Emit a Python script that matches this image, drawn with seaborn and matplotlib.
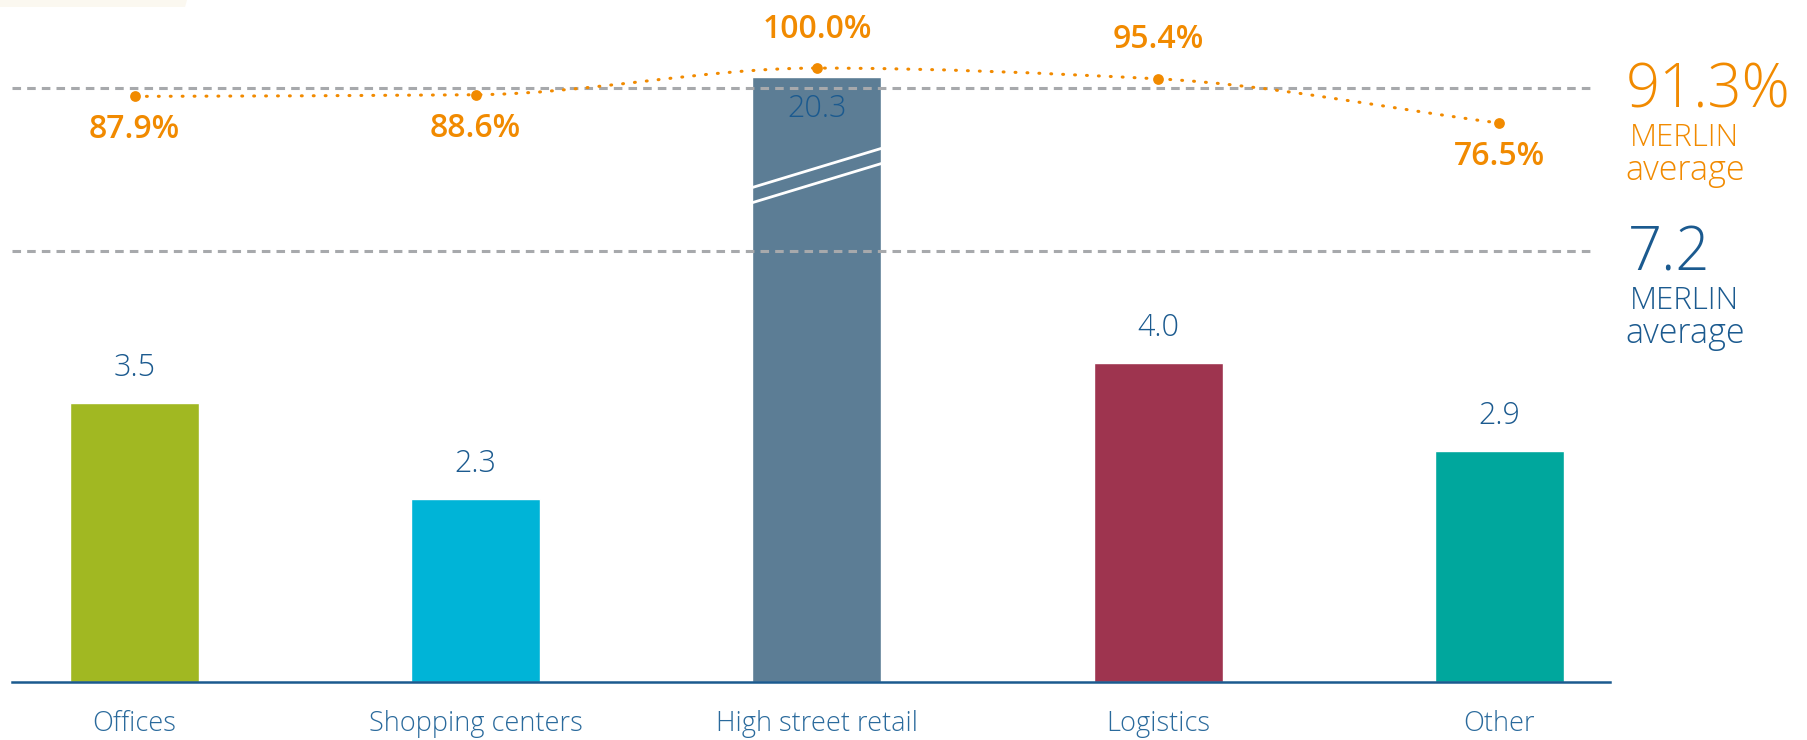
import numpy as np
import matplotlib
matplotlib.use("Agg")
import matplotlib.pyplot as plt
from matplotlib.path import Path
from matplotlib.patches import PathPatch, Polygon
import pandas as pd
import seaborn as sns

# data
categories = ["Offices", "Shopping centers", "High street retail", "Logistics", "Other"]
wault_years = [3.5, 2.3, 20.3, 4.0, 2.9]
occupancy_pct = [87.9, 88.6, 100.0, 95.4, 76.5]
bar_colors = ["#A1B822", "#00B4D7", "#5C7D95", "#9E344F", "#00A79D"]
avg_occupancy = 91.3
avg_wault = 7.2

ORANGE = "#F18A00"
BLUE = "#1B5A8F"
LABEL_BLUE = "#2A6A9C"
GREY = "#A7A9AC"

# layout: the reference breaks its y scale for the tall bar and the WAULT line
Y_TOP = 8.55
BAR_CAP = 7.59
WAULT_LINE_POS = 5.40
OCC_LIM = (-162.4, 129.1)

sns.set_theme(style="white")
plt.rcParams["font.family"] = ["Open Sans", "DejaVu Sans"]
THIN = "light"

W, H = 1807, 740
fig = plt.figure(figsize=(W / 100, H / 100), dpi=100)
ax = fig.add_axes([12 / W, (H - 682) / H, 1598 / W, 682 / H])

df = pd.DataFrame({"category": categories, "wault": wault_years})
df["shown"] = df["wault"].clip(upper=BAR_CAP)

sns.barplot(
    data=df,
    x="category",
    y="shown",
    hue="category",
    palette=dict(zip(categories, bar_colors)),
    width=0.378,
    saturation=1,
    legend=False,
    ax=ax
)
ax.set_xlim(-0.359, 4.324)
ax.set_ylim(0, Y_TOP)

# break marks on the truncated bar
for patch in ax.patches:
    x0, w = patch.get_x(), patch.get_width()
    i = int(round(x0 + w / 2))
    if wault_years[i] > BAR_CAP:
        for y0 in (6.20, 6.01):
            ax.plot([x0, x0 + w], [y0, y0 + 0.49], color="white", lw=2, solid_capstyle="butt", zorder=3)

# value labels
for i, (v, s) in enumerate(zip(wault_years, df["shown"])):
    off = -23 if v > BAR_CAP else 25
    ax.annotate(f"{v:.1f}", (i, s), xytext=(0, off), textcoords="offset points",
                ha="center", va="center", fontsize=22, color=BLUE, fontweight=THIN)

ax.axhline(WAULT_LINE_POS, xmin=0, xmax=0.991, color=GREY, lw=2.2, linestyle=(0, (2.8, 2)), zorder=1)

# occupancy on twin axis
ax2 = ax.twinx()
ax2.set_ylim(*OCC_LIM)
ax2.axhline(avg_occupancy, xmin=0, xmax=0.991, color=GREY, lw=2.2, linestyle=(0, (2.8, 2)), zorder=1)

xs = np.arange(len(occupancy_pct), dtype=float)
ys = np.array(occupancy_pct)
d = np.diff(ys)
m = np.zeros_like(ys)
m[0], m[-1] = d[0], d[-1]
for k in range(1, len(ys) - 1):
    if d[k - 1] * d[k] > 0:
        m[k] = 2 / (1 / d[k - 1] + 1 / d[k])
verts = [(xs[0], ys[0])]
codes = [Path.MOVETO]
for k in range(len(ys) - 1):
    verts += [(xs[k] + 1 / 3, ys[k] + m[k] / 3),
              (xs[k + 1] - 1 / 3, ys[k + 1] - m[k + 1] / 3),
              (xs[k + 1], ys[k + 1])]
    codes += [Path.CURVE4] * 3
ax2.add_patch(PathPatch(Path(verts, codes), fill=False, edgecolor=ORANGE, lw=2.2,
                        linestyle=(0, (0.3, 3.6)), capstyle="round", zorder=4))

sns.scatterplot(x=xs, y=ys, ax=ax2, color=ORANGE, s=60, linewidth=0, zorder=5)

for x, p in zip(xs, occupancy_pct):
    off = 28 if p > avg_occupancy else -24
    ax2.annotate(f"{p:.1f}%", (x, p), xytext=(0, off), textcoords="offset points",
                 ha="center", va="center", fontsize=23, color=ORANGE, fontweight="semibold")

# axes styling
for a in (ax, ax2):
    a.set_xlabel("")
    a.set_ylabel("")
    a.set_yticks([])
    for side in ("top", "left", "right"):
        a.spines[side].set_visible(False)
ax2.spines["bottom"].set_visible(False)
ax.spines["bottom"].set_color(BLUE)
ax.spines["bottom"].set_linewidth(1.8)
ax.tick_params(axis="x", length=0, pad=20, labelsize=19.5, labelcolor=LABEL_BLUE)
for lbl in ax.get_xticklabels():
    lbl.set_fontweight(THIN)

# right-hand averages
def px(x, y):
    return x / W, 1 - y / H

fig.text(*px(1626, 107), f"{avg_occupancy}%", color=ORANGE, fontsize=43, fontweight=THIN, va="baseline")
fig.text(*px(1630, 146), "MERLIN", color=ORANGE, fontsize=22.5, fontweight=THIN, va="baseline")
fig.text(*px(1625, 180), "average", color=ORANGE, fontsize=24.5, fontweight=THIN, va="baseline")
fig.text(*px(1628, 271), f"{avg_wault}", color=BLUE, fontsize=43, fontweight=THIN, va="baseline")
fig.text(*px(1630, 309), "MERLIN", color=BLUE, fontsize=22.5, fontweight=THIN, va="baseline")
fig.text(*px(1625, 343), "average", color=BLUE, fontsize=24.5, fontweight=THIN, va="baseline")

# faint strip at the top-left corner
fig.patches.append(Polygon([px(0, 0), px(187, 0), px(185, 7), px(0, 7)], closed=True,
                           transform=fig.transFigure, facecolor="#FBF8F0", edgecolor="none"))

fig.savefig("out.png", dpi=100)
